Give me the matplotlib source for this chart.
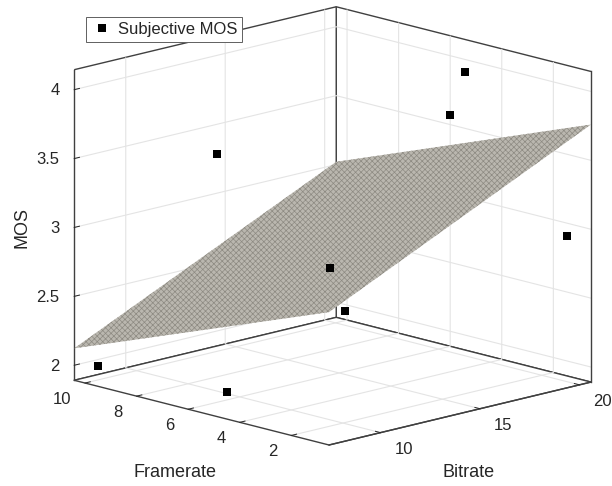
import numpy as np
import matplotlib
matplotlib.use("Agg")
import matplotlib.pyplot as plt
from matplotlib.text import Text
from mpl_toolkits.mplot3d import proj3d

bitrate_pts = [11.43, 20.02, 17.97, 19.99, 13.25, 16.60, 7.42, 7.44]
framerate_pts = [8.0, 5.0, 4.0, 1.0, 5.0, 7.0, 9.5, 4.5]
mos_pts = [3.512, 3.952, 3.758, 2.948, 2.759, 2.236, 2.036, 2.085]

bitrate_edges = [7.41, 20.58]
framerate_edges = [0.54, 10.42]
# fitted surface heights at its corners: rows = framerate, columns = bitrate
surface_mos = [[2.855, 3.76], [2.123, 3.02]]
mos_limits = [1.891, 4.145]

bitrate_ticks = [10, 15, 20]
framerate_ticks = [2, 4, 6, 8, 10]
mos_ticks = [2, 2.5, 3, 3.5, 4]
mos_ticklabels = ["2", "2.5", "3", "3.5", "4"]

W, H = 612, 486
DARK = "#404040"
TXT = "#262626"
plt.rcParams["font.family"] = ["Liberation Sans", "DejaVu Sans"]
plt.rcParams["hatch.linewidth"] = 0.5

fig = plt.figure(figsize=(W / 100, H / 100), dpi=100)
ax = fig.add_axes([0, 0, 1, 1], projection="3d", proj_type="ortho", computed_zorder=False)
ax.set_xlim(bitrate_edges)
ax.set_ylim(framerate_edges)
ax.set_zlim(mos_limits)
ax.set_box_aspect((366, 366, 321))
ax.view_init(elev=14.3, azim=-134.2)

# place the axes so the floor corners land where the reference has them
M = ax.get_proj()
def proj(x, y, z):
    a, b, _ = proj3d.proj_transform(x, y, z, M)
    return a, b
fx, fy = proj(bitrate_edges[0], framerate_edges[0], mos_limits[0])
rx, ry = proj(bitrate_edges[1], framerate_edges[0], mos_limits[0])
xl, yl = ax.viewLim.intervalx, ax.viewLim.intervaly
span_x, span_y = xl[1] - xl[0], yl[1] - yl[0]
side = (591 - 329) / ((rx - fx) / span_x)
left = 329 - (fx - xl[0]) / span_x * side
bottom_from_top = 445 + (fy - yl[0]) / span_y * side
ax.set_position([left / W, (H - bottom_from_top) / H, side / W, side / H])

X, Y = np.meshgrid(bitrate_edges, framerate_edges)
surf = ax.plot_surface(X, Y, np.array(surface_mos), color="#bab7af", shade=False,
                       linewidth=0, edgecolor="#8d8a82", hatch="xxxxxx", zorder=2, antialiased=True)
pts, = ax.plot(bitrate_pts, framerate_pts, mos_pts, ls="none", marker="s", ms=5.8, mfc="black",
               mec="black", mew=0, zorder=3, label="Subjective MOS")
# the one box edge the open pane outline leaves out
ax.plot([bitrate_edges[1]] * 2, [framerate_edges[0]] * 2, mos_limits, color=DARK, lw=1.0, zorder=1)

ax.set_xticks(bitrate_ticks)
ax.set_yticks(framerate_ticks)
ax.set_zticks(mos_ticks)
ax.set_zticklabels(mos_ticklabels)
ax.set_xlabel("Bitrate", fontsize=13, color=TXT)
ax.set_ylabel("Framerate", fontsize=13, color=TXT)
ax.set_zlabel("MOS", fontsize=13, color=TXT, rotation=90)
ax.zaxis.set_ticks_position("upper")
ax.zaxis.set_label_position("upper")
for axis in (ax.xaxis, ax.yaxis, ax.zaxis):
    axis.set_rotate_label(False)
    axis.set_pane_color((1, 1, 1, 1))
    axis.pane.set_edgecolor(DARK)
    axis.pane.set_linewidth(1.0)
    axis.line.set_color(DARK)
    axis.line.set_linewidth(1.0)
    axis._axinfo["grid"].update(color="#e4e4e4", linewidth=0.8)
    axis._axinfo["tick"].update(inward_factor=0.0, outward_factor=0.25, linewidth={True: 0.7, False: 0.5}, color=DARK)
    axis.set_tick_params(labelsize=12, labelcolor=TXT, pad=3, colors=TXT)

# mplot3d recomputes text positions at draw time, so shift them where they get set
def shift_on_set(text, dx_px, dy_px, ha=None):
    if ha:
        text.set_ha(ha)
    dx, dy = dx_px / side * span_x, dy_px / side * span_y
    text.set_position = lambda xy: Text.set_position(text, (xy[0] + dx, xy[1] + dy))

def pin_on_set(text, px, py):
    x = xl[0] + (px - left) / side * span_x
    y = yl[0] + (bottom_from_top - py) / side * span_y
    text.set_position = lambda xy: Text.set_position(text, (x, y))

for tick in ax.xaxis.get_major_ticks(len(bitrate_ticks)):
    shift_on_set(tick.label1, 10.5, 9)
for tick in ax.yaxis.get_major_ticks(len(framerate_ticks)):
    shift_on_set(tick.label1, -1, 10, ha="right")
for tick in ax.zaxis.get_major_ticks(len(mos_ticks)):
    shift_on_set(tick.label1, 11, 6.5, ha="right")
pin_on_set(ax.xaxis.label, 469, 472)
pin_on_set(ax.yaxis.label, 175, 472)
pin_on_set(ax.zaxis.label, 22, 227)

leg = fig.legend(handles=[pts], loc="upper left", bbox_to_anchor=(85.5 / W, 1 - 17 / H), fontsize=12,
                 fancybox=False, framealpha=1, edgecolor="#606060", borderpad=0.3, handletextpad=0.3,
                 handlelength=1.35, borderaxespad=0, labelcolor=TXT)
leg.get_frame().set_linewidth(0.7)
leg.set_zorder(10)
fig.savefig("out.png", dpi=100)
